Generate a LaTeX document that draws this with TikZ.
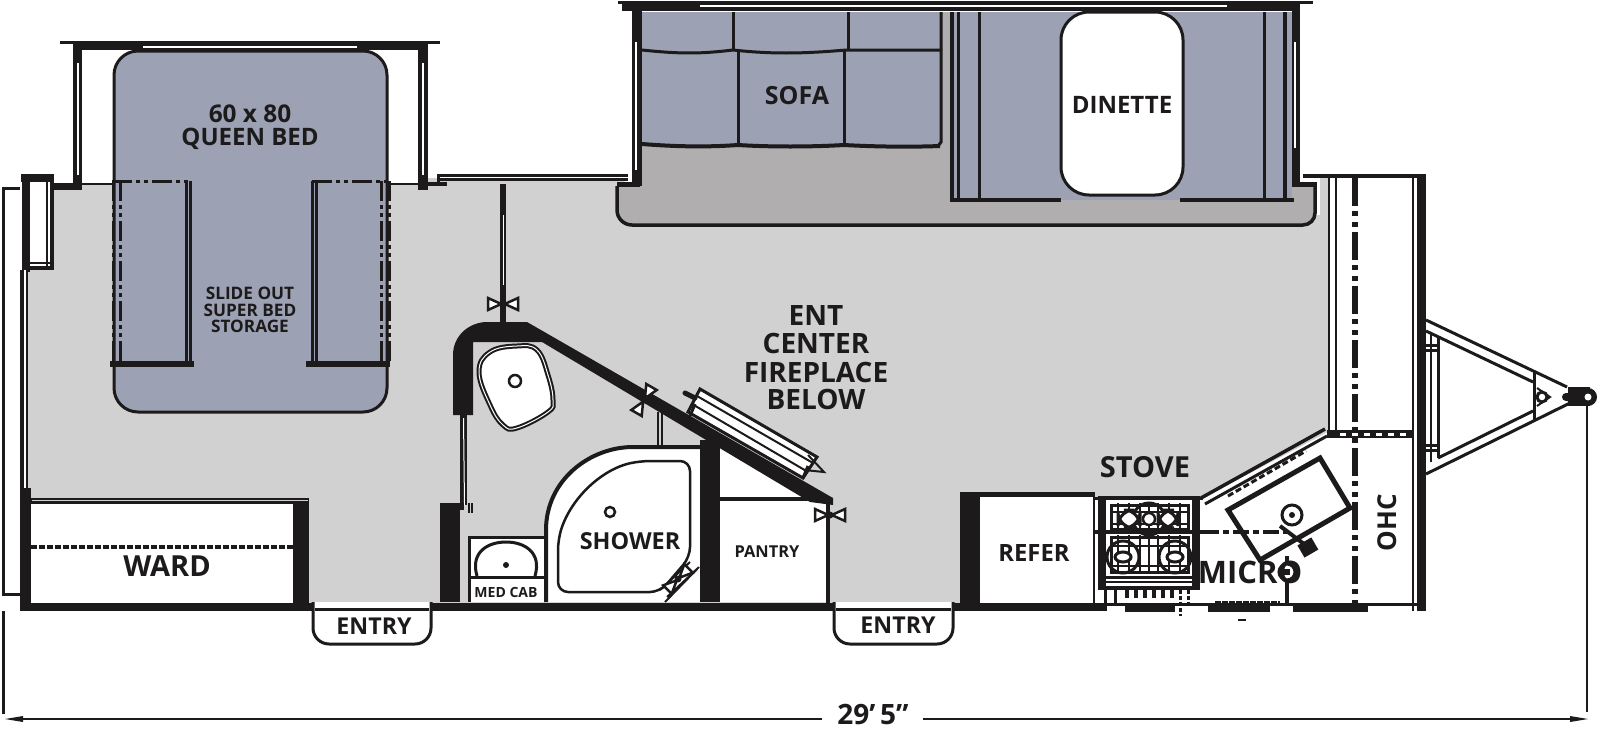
\documentclass[tikz,border=0pt]{standalone}
\usepackage{fontspec}
\setmainfont{Open Sans}
\definecolor{ink}{HTML}{1C1A1B}
\definecolor{bedc}{HTML}{9CA2B3}
\definecolor{floorc}{HTML}{D1D1D1}
\definecolor{slidec}{HTML}{B0AEAE}
\tikzset{
  px/.style={line width=#1*0.5pt},
  ln/.style={draw=ink,px=#1},
  ln/.default=3,
  dashdot/.style={ln=6,dash pattern=on 14pt off 2.5pt on 2.5pt off 3pt on 2.5pt off 2.5pt},
  fdash/.style={ln=3,dash pattern=on 10pt off 2pt on 2pt off 2pt on 2pt off 2pt},
  lab/.style={font=\fontsize{#1}{#1}\selectfont\bfseries,text=ink,inner sep=0pt,align=center},
  hinge/.pic={
    \draw[ln=2.5,fill=white] (-15,-6) -- (-4,-1) -- (-4,1) -- (-15,6) -- cycle;
    \draw[ln=2.5,fill=white] (15,-6) -- (4,-1) -- (4,1) -- (15,6) -- cycle;
    \fill[ink] (0,0) circle (3.5);
  }
}
\begin{document}
\begin{tikzpicture}[x=0.5pt,y=-0.5pt,line join=miter]
\useasboundingbox (0,0) rectangle (1600,728);
% floors
\fill[floorc] (28,184) -- (428,184) -- (428,178) -- (625,178) -- (625,215) -- (1320,215) -- (1320,178) -- (1328,178) -- (1328,432) -- (1203,498) -- (960,498) -- (960,603) -- (28,603) -- cycle;
\fill[slidec] (617,186) -- (640,186) -- (640,146) -- (942,146) -- (942,12) -- (950,12) -- (950,200) -- (1292,200) -- (1292,187) -- (1315,187) -- (1315,213) arc[start angle=0,end angle=90,radius=12] -- (632,225) arc[start angle=90,end angle=180,radius=15] -- cycle;
\draw[ln=3.5] (617,186) -- (617,210) arc[start angle=180,end angle=90,radius=15] -- (1303,225) arc[start angle=90,end angle=0,radius=12] -- (1315,182);
% queen bed
\draw[ln=3,fill=bedc,rounded corners=12] (114,51) rectangle (387,412);
% bed slide walls
\fill[ink] (60,41) rectangle (440,44);
\fill[ink] (82,44) rectangle (418,50);
\fill[white] (143,46) rectangle (357,48);
\fill[ink] (73,42) rectangle (82,190);
\fill[white] (77,63) rectangle (79,175);
\fill[ink] (418,42) rectangle (428,190);
\fill[white] (422,63) rectangle (424,175);
\draw[ln=2] (82,184) -- (113,184);
\draw[ln=2] (387,184) -- (418,184);
% window box at rear
\fill[white] (3,188) rectangle (20,594);
\draw[ln=3] (20,188) -- (3,188) -- (3,594) -- (20,594);
\fill[ink] (21,174) rectangle (54,182);
\fill[ink] (50,182) rectangle (54,270);
\fill[ink] (22,174) rectangle (30,272);
\fill[ink] (30,266) rectangle (54,270);
\fill[white] (30,182) rectangle (50,266);
\draw[ln=2] (47,182) -- (47,266);
\draw[ln=2] (30,263) -- (50,263);
\fill[ink] (54,183) rectangle (82,190);
% rear wall
\fill[ink] (20,270) rectangle (28,611);
\fill[white] (24,270) rectangle (26,488);
\fill[ink] (22,488) rectangle (31,611);
% main top wall
\draw[ln=3] (437,175) -- (628,175);
\draw[ln=3] (437,179) -- (628,179);
\fill[ink] (428,182) rectangle (447,186);
\fill[ink] (437,174) rectangle (440,186);
% sofa
\fill[bedc] (642,12) rectangle (942,146);
\draw[ln=3] (642,50) .. controls (680,54) and (700,54) .. (733,50) .. controls (770,54) and (800,54) .. (846,50) -- (942,50);
\draw[ln=3] (733,12) -- (733,50);
\draw[ln=3] (848,12) -- (848,50);
\draw[ln=3] (738,50) -- (738,146);
\draw[ln=3] (844,50) -- (844,146);
\draw[ln=4] (642,144) .. controls (680,147) and (710,147) .. (738,145) .. controls (770,147) and (810,147) .. (844,145) .. controls (880,147) and (915,147) .. (940,146);
\draw[ln=3] (941,12) -- (941,142) -- (938,146);
% dinette
\fill[bedc] (950,12) rectangle (1292,200);
\draw[ln=4] (952,12) -- (952,200);
\draw[ln=3] (958,12) -- (958,200);
\draw[ln=3] (979,12) -- (979,198);
\draw[ln=3] (1264,12) -- (1264,198);
\draw[ln=4] (1285,12) -- (1285,200);
\fill[ink] (950,198) rectangle (1061,202);
\fill[ink] (1180,198) rectangle (1294,202);
\fill[white,draw=ink,px=3,rounded corners=14] (1061,12) rectangle (1183,195);
% large slide top wall
\fill[ink] (618,1) rectangle (1313,4);
\fill[ink] (622,4) rectangle (1300,11);
\fill[white] (700,5) rectangle (1227,7);
\fill[ink] (632,4) rectangle (642,186);
\fill[white] (635,42) rectangle (637,170);
\fill[ink] (1292,4) rectangle (1300,187);
\fill[white] (1294,42) rectangle (1296,148);
\fill[ink] (617,182) rectangle (640,187);
\fill[ink] (1292,182) rectangle (1315,187);
% front end
\fill[white] (1329,178) rectangle (1413,603);
\fill[ink] (1303,174) rectangle (1426,178);
\draw[ln=2.5] (1329,178) -- (1329,430);
\draw[ln=2.5] (1336,178) -- (1336,430);
\draw[ln=2.5] (1413,178) -- (1413,611);
\fill[ink] (1417,174) rectangle (1426,611);
% white zones of kitchen
\fill[white] (1203,500) -- (1328,434) -- (1340,434) -- (1340,603) -- (1203,603) -- cycle;
\fill[white] (1093,498) rectangle (1210,603);
\draw[dashdot] (1355,178) -- (1355,603);
\fill[ink] (1327,430) rectangle (1413,438);
\draw[white,px=3,dash pattern=on 3pt off 3pt] (1340,434) -- (1412,434);
% A frame
\draw[ln=3] (1426,320) -- (1567,387);
\draw[ln=3] (1426,331) -- (1533,382);
\draw[ln=3] (1426,474) -- (1570,403);
\draw[ln=3] (1438,458) -- (1533,411);
\draw[ln=3] (1534,372) -- (1534,421);
\draw[ln=3] (1438,337) -- (1438,458);
\draw[ln=2] (1431,332) -- (1431,462);
\draw[ln=3] (1426,345) -- (1438,345);
\draw[ln=3] (1426,350) -- (1438,350);
\draw[ln=3] (1426,445) -- (1438,445);
\draw[ln=3] (1426,450) -- (1438,450);
\draw[ln=3] (1542,397) circle (5);
\draw[ln=2] (1537,388) -- (1550,397) -- (1537,406);
\fill[ink,rounded corners=2] (1562,393) rectangle (1572,401);
\fill[ink] (1568,387) rectangle (1590,406);
\fill[ink] (1588,397) circle (9);
\fill[white] (1588,397) circle (3.5);
% ward
\fill[white] (31,504) rectangle (293,603);
\fill[ink] (28,498) rectangle (309,504);
\fill[floorc] (32,500) rectangle (308,501);
\fill[ink] (293,504) rectangle (309,603);
\draw[ln=4,dash pattern=on 3pt off 1pt] (31,547) -- (293,547);
% bottom wall
\fill[ink] (22,603) rectangle (1107,611);
\fill[ink] (1107,603) rectangle (1426,606);
\fill[ink] (1125,606) rectangle (1175,612);
\fill[ink] (1208,606) rectangle (1270,612);
\fill[ink] (1293,606) rectangle (1368,612);
\fill[ink] (1238,619) rectangle (1246,621);
% entries
\draw[ln=3,fill=white,rounded corners=8] (313,602) -- (313,644) -- (431,644) -- (431,602);
\fill[white] (315,604) rectangle (429,608);
\fill[ink] (315,608) rectangle (429,611);
\draw[ln=3,fill=white,rounded corners=8] (834,602) -- (834,644) -- (953,644) -- (953,602);
\fill[white] (836,604) rectangle (951,608);
\fill[ink] (836,608) rectangle (951,611);
% bath whites
\fill[white] (546,602) -- (546,530) .. controls (546,480) and (590,447) .. (633,447) -- (700,447) -- (700,602) -- cycle;
\fill[white] (720,447) -- (810,500) -- (828,500) -- (828,602) -- (720,602) -- cycle;
\fill[white] (469,537) rectangle (546,602);
% bath walls
\fill[ink] (453,415) -- (453,355) .. controls (453,335) and (470,322) .. (487,322) -- (527,322) -- (833,498) -- (833,505) -- (810,502) -- (542,342) -- (473,342) -- (473,415) -- cycle;
\fill[ink] (460,415) rectangle (467,505);
\fill[white] (463,418) -- (464,418) -- (465,505) -- (464,505) -- cycle;
\fill[ink] (440,503) rectangle (460,602);
\fill[ink] (460,503) rectangle (464,510);
\draw[ln=2] (469,503) -- (469,513);
\draw[ln=2] (472,503) -- (472,513);
\fill[ink] (700,440) rectangle (720,602);
\draw[ln=4] (720,499) -- (808,499);
\draw[ln=4] (828,500) -- (828,603);
\draw[ln=4] (546,602) -- (546,530) .. controls (546,480) and (590,447) .. (633,447) -- (700,447);
% shower
\draw[ln=2.5,rounded corners=5] (558,592) -- (558,540) .. controls (570,500) and (600,470) .. (640,461) -- (690,461) -- (690,557) -- (660,592) -- cycle;
\draw[ln=2.5] (610,512) circle (5);
\draw[ln=2] (665,602) -- (699,567);
\draw[ln=2] (660,590) -- (690,562);
\draw[ln=2] (667,597) -- (697,569);
\pic[rotate=45] at (678,579) {hinge};
% med cab
\draw[ln=3] (469,602) -- (469,537) -- (546,537);
\draw[ln=3] (469,577) -- (546,577);
\draw[ln=3] (477,576) .. controls (470,552) and (488,542) .. (506,542) .. controls (524,542) and (542,552) .. (535,576);
\fill[ink] (506,565) circle (3);
% bath sink
\draw[ln=5,fill=white] plot[smooth cycle,tension=0.7] coordinates {(479,372) (490,352) (517,346) (537,350) (548,375) (553,400) (548,412) (517,428) (503,425) (490,405)};
\draw[white,px=1] plot[smooth cycle,tension=0.7] coordinates {(479,372) (490,352) (517,346) (537,350) (548,375) (553,400) (548,412) (517,428) (503,425) (490,405)};
\draw[ln=2.5] (515,381) circle (6);
% partition and door
\fill[ink] (500,184) rectangle (506,322);
\fill[white] (502.5,215) rectangle (503.5,285);
\draw[ln=2] (658,412) -- (658,447);
\draw[ln=2] (662,412) -- (662,447);
\pic at (503,304) {hinge};
\pic[rotate=60] at (644,400) {hinge};
\pic at (830,515) {hinge};
% ent center
\draw[ln=3,fill=white] (700,389) -- (817,457) -- (803,478) -- (688,412) -- cycle;
\draw[ln=2] (697,396) -- (813,463);
\draw[ln=2] (692,404) -- (808,472);
\draw[ln=5,line cap=round] (685,393) -- (695,398);
\draw[ln=2] (808,455) -- (824,472) -- (804,470);
\draw[ln=3] (690,416) -- (695,404);
\draw[ln=3] (803,478) -- (808,466);
% bed storage frames
\foreach \a/\b in {113/120,389/381}{
  \draw[fdash] (\a,181) -- (\a,362);
  \draw[fdash] (\b,181) -- (\b,362);
}
\draw[ln=3] (186,181) -- (186,362);
\draw[ln=3] (190,181) -- (190,362);
\draw[ln=3] (316,181) -- (316,362);
\draw[ln=3] (312,181) -- (312,362);
\draw[fdash] (112,181) -- (190,181);
\draw[fdash] (312,181) -- (389,181);
\fill[ink] (110,361) rectangle (194,367);
\fill[ink] (306,361) rectangle (390,367);
% refer
\fill[white] (980,497) rectangle (1093,603);
\fill[ink] (960,492) rectangle (980,603);
\fill[ink] (960,492) rectangle (1095,497);
\draw[ln=2.5] (1094,492) -- (1094,603);
% stove
\fill[ink] (1100,498) rectangle (1106,588);
\fill[ink] (1192,498) rectangle (1198,588);
\draw[ln=4] (1100,498) rectangle (1198,588);
\draw[ln=3] (1093,498) -- (1203,498);
\draw[ln=4] (1093,532) -- (1203,532);
\draw[ln=3] (1100,577) -- (1198,577);
\draw[ln=2] (1100,582) -- (1198,582);
\draw[ln=3] (1111,505) rectangle (1188,529);
\draw[ln=3] (1111,537) rectangle (1188,572);
\foreach \x in {1118,1129,1140,1149,1158,1169,1180}{ \draw[ln=2.5] (\x,503) -- (\x,531); \draw[ln=2.5] (\x,535) -- (\x,574);}
\draw[ln=2.5] (1111,512) -- (1188,512);
\draw[ln=2.5] (1111,524) -- (1188,524);
\draw[ln=2.5] (1111,546) -- (1188,546);
\draw[ln=2.5] (1111,566) -- (1188,566);
\draw[ln=3] (1149,519) circle (16);
\fill[white] (1149,519) circle (6);
\draw[ln=2.5] (1149,519) circle (6);
\draw[ln=3,fill=white,rounded corners=8] (1118,510) rectangle (1140,528);
\draw[ln=3,fill=white,rounded corners=8] (1158,510) rectangle (1178,528);
\draw[ln=3] (1123,557) circle (16);
\draw[ln=3] (1175,557) circle (16);
\draw[ln=3,fill=white] (1123,557) ellipse (8 and 5);
\draw[ln=3,fill=white] (1175,557) ellipse (8 and 5);
\draw[ln=3] (1105,588) -- (1105,603);
\draw[ln=3] (1115,590) -- (1115,603);
\foreach \x in {1127,1136,1145,1154,1163,1172}{ \draw[ln=4] (\x,590) -- (\x,598); }
\draw[ln=3,dash pattern=on 2pt off 1pt] (1180,590) -- (1180,616);
\draw[ln=3,dash pattern=on 2pt off 1pt] (1188,590) -- (1188,603);
% kitchen wall
\draw[ln=3.5] (1201,498) -- (1325,429);
\draw[ln=3] (1205,504) -- (1327,436);
\draw[ln=3,dash pattern=on 3pt off 1.5pt] (1228,496) -- (1306,451);
% sink
\draw[ln=5,fill=white] (1228,510) -- (1320,458) -- (1350,508) -- (1260,560) -- cycle;
\draw[ln=3] (1292,515) circle (10);
\fill[ink] (1292,515) circle (3);
\draw[ln=4,dash pattern=on 8pt off 2pt on 3pt off 2pt] (1203,532) -- (1292,532);
\draw[ln=4] (1280,526) -- (1308,547);
\fill[ink,rotate around={30:(1307,548)}] (1300,541) rectangle (1316,555);
\draw[ln=3,fill=white] (1287,572) circle (8);
\fill[ink] (1284,569) rectangle (1290,575);
\draw[ln=4] (1287,556) -- (1287,563);
\draw[ln=4] (1287,580) -- (1287,603);
\draw[ln=2,dash pattern=on 3pt off 0.5pt] (1215,602) -- (1280,602);
% dimensions
\draw[ln=3] (3,611) -- (3,714);
\draw[ln=2] (1587,406) -- (1587,712);
\fill[ink] (5,719) -- (23,716) -- (23,722) -- cycle;
\fill[ink] (1588,719) -- (1570,716) -- (1570,722) -- cycle;
\draw[ln=2.5] (23,719) -- (822,719);
\draw[ln=2.5] (923,719) -- (1570,719);
% labels
\node[lab=12.2] (bedA) at (250,114) {60 x 80};
\node[lab=12] (bedB) at (250,139) {QUEEN BED};
\node[lab=8.6] (stA) at (250,293) {SLIDE OUT};
\node[lab=8.6] (stB) at (250,310) {SUPER BED};
\node[lab=8.6] (stC) at (250,326) {STORAGE};
\node[lab=12.5] (sofa) at (797,96) {SOFA};
\node[lab=12] (din) at (1122,105) {DINETTE};
\node[lab=14] (entA) at (816,316) {ENT};
\node[lab=14] (entB) at (816,343) {CENTER};
\node[lab=14] (entC) at (816,372) {FIREPLACE};
\node[lab=14] (entD) at (816,399) {BELOW};
\node[lab=14.5] (ward) at (167,566) {WARD};
\node[lab=11.6] (e1) at (374,626) {ENTRY};
\node[lab=11.6] (e2) at (898,625) {ENTRY};
\node[lab=11.7] (shower) at (630,541) {SHOWER};
\node[lab=8.2] (pantry) at (767,552) {PANTRY};
\node[lab=7] (med) at (506,592) {MED CAB};
\node[lab=11.9] (refer) at (1034,553) {REFER};
\node[lab=14.5] (stove) at (1145,467) {STOVE};
\node[lab=15.5] (micro) at (1250,572) {MICRO};
\node[lab=13,rotate=90] (ohc) at (1387,523) {OHC};
\node[lab=14,anchor=base] (dim) at (873,724) {29’\,5”};
\end{tikzpicture}
\end{document}
